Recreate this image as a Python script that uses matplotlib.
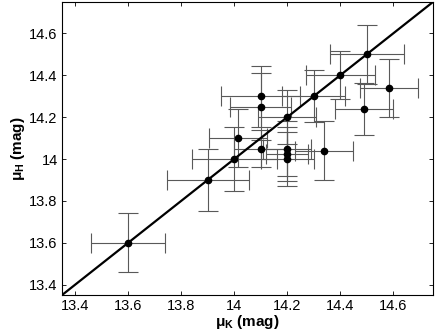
import numpy as np
import matplotlib
matplotlib.use("Agg")
import matplotlib.pyplot as plt
from matplotlib.ticker import FormatStrFormatter

# distance moduli: K band (x) vs H band (y)
mu_k = [13.60, 13.90, 14.00, 14.015, 14.10, 14.10, 14.10, 14.20, 14.20, 14.20, 14.20,
        14.30, 14.40, 14.50, 14.49, 14.585, 14.34]
mu_h = [13.60, 13.90, 14.00, 14.10, 14.30, 14.25, 14.05, 14.20, 14.05, 14.025, 14.00,
        14.30, 14.40, 14.50, 14.24, 14.34, 14.04]
err_k = [0.14, 0.155, 0.16, 0.11, 0.15, 0.115, 0.10, 0.11, 0.09, 0.08, 0.10,
         0.12, 0.13, 0.14, 0.11, 0.11, 0.11]
err_h = [0.14, 0.15, 0.155, 0.14, 0.145, 0.16, 0.09, 0.13, 0.13, 0.13, 0.13,
         0.125, 0.115, 0.14, 0.125, 0.14, 0.14]

lims = [13.35, 14.75]
ticks = [13.4, 13.6, 13.8, 14.0, 14.2, 14.4, 14.6]

plt.rcParams['font.family'] = 'Liberation Sans'
plt.rcParams['mathtext.fontset'] = 'custom'
plt.rcParams['mathtext.rm'] = 'Liberation Sans:bold'
plt.rcParams['mathtext.it'] = 'Liberation Sans:bold'

fig = plt.figure(figsize=(4.36, 3.35), dpi=100)
ax = fig.add_axes([0.142, 0.119, 0.851, 0.875])

ax.plot(lims, lims, color='black', lw=1.6, zorder=3)
ax.errorbar(mu_k, mu_h, xerr=err_k, yerr=err_h, fmt='none', ecolor='0.35',
            elinewidth=0.8, capsize=7, capthick=0.8, zorder=2)
ax.plot(mu_k, mu_h, 'o', color='black', ms=4.5, zorder=4)

ax.set_xlim(lims)
ax.set_ylim(lims)
ax.set_xticks(ticks)
ax.set_yticks(ticks)
ax.xaxis.set_major_formatter(FormatStrFormatter('%g'))
ax.yaxis.set_major_formatter(FormatStrFormatter('%g'))
ax.tick_params(direction='in', top=True, right=True, length=3, width=0.6, labelsize=10.5, pad=3)
for s in ax.spines.values():
    s.set_linewidth(0.8)

ax.set_xlabel(r'$\mu_{\rm K}$ (mag)', fontsize=11, fontweight='bold', labelpad=0)
ax.set_ylabel(r'$\mu_{\rm H}$ (mag)', fontsize=11, fontweight='bold', labelpad=2)

fig.savefig('out.png', dpi=100)
